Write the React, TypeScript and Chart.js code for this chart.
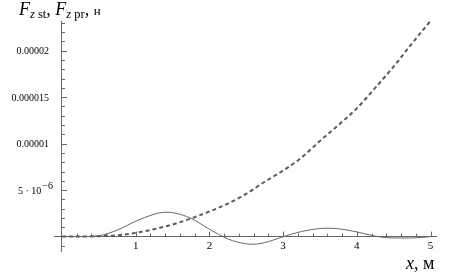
import React, { useEffect, useRef } from 'react';
import { Chart, registerables } from 'chart.js';

Chart.register(...registerables);

// Data
const SOLID_X = [0, 0.25, 0.5, 0.75, 1.0, 1.25, 1.4, 1.5, 1.75, 2.0, 2.25, 2.5, 2.6, 2.75, 3.0, 3.25, 3.5, 3.6, 3.75, 4.0, 4.25, 4.5, 4.75, 5.0];
const SOLID_Y = [0, 0, 0.1e-6, 0.7e-6, 1.65e-6, 2.4e-6, 2.62e-6, 2.58e-6, 1.97e-6, 0.8e-6, -0.25e-6, -0.78e-6, -0.82e-6, -0.65e-6, -0.02e-6, 0.55e-6, 0.87e-6, 0.9e-6, 0.85e-6, 0.5e-6, 0.05e-6, -0.15e-6, -0.15e-6, 0];

const DASHED_X = [0, 0.25, 0.5, 0.75, 1.0, 1.25, 1.5, 1.75, 2.0, 2.25, 2.5, 2.75, 3.0, 3.25, 3.5, 3.75, 4.0, 4.25, 4.5, 4.75, 5.0];
const DASHED_Y = [0, 0, 0.05e-6, 0.15e-6, 0.4e-6, 0.8e-6, 1.3e-6, 1.95e-6, 2.7e-6, 3.55e-6, 4.6e-6, 5.9e-6, 7.1e-6, 8.5e-6, 10.3e-6, 12.0e-6, 13.8e-6, 16.0e-6, 18.3e-6, 20.8e-6, 23.2e-6];

const X_TICKS = [1, 2, 3, 4, 5];
const X_TICK_LABELS = ['1', '2', '3', '4', '5'];
const Y_TICKS = [5e-6, 1e-5, 1.5e-5, 2e-5];
// [base text, superscript]
const Y_TICK_LABELS: [string, string][] = [
  ['5 \u00b7 10', '\u22126'],
  ['0.00001', ''],
  ['0.000015', ''],
  ['0.00002', ''],
];

const SERIF = '"Liberation Serif", "Times New Roman", serif';

const insideTicks = {
  id: 'insideTicks',
  beforeDatasetsDraw(chart: any) {
    const { ctx, scales } = chart;
    const xs = scales.x;
    const ys = scales.y;
    const x0 = xs.getPixelForValue(0);
    const y0 = ys.getPixelForValue(0);
    ctx.save();
    ctx.strokeStyle = '#666';
    ctx.lineWidth = 1;
    ctx.beginPath();
    for (let i = 1; i <= 25; i++) {
      const v = i * 0.2;
      const px = Math.round(xs.getPixelForValue(v)) + 0.5;
      const major = i % 5 === 0;
      ctx.moveTo(px, y0);
      ctx.lineTo(px, y0 - (major ? 5 : 3));
    }
    for (let i = -1; i <= 23; i++) {
      if (i === 0) continue;
      const v = i * 1e-6;
      const py = Math.round(ys.getPixelForValue(v)) + 0.5;
      const major = i % 5 === 0;
      ctx.moveTo(x0, py);
      ctx.lineTo(x0 + (major ? 5 : 3), py);
    }
    ctx.stroke();

    // y tick labels, right-aligned left of the axis
    ctx.fillStyle = '#000';
    ctx.textBaseline = 'middle';
    ctx.textAlign = 'right';
    const right = x0 - 13;
    Y_TICKS.forEach((v, i) => {
      const py = ys.getPixelForValue(v);
      const [base, sup] = Y_TICK_LABELS[i];
      if (sup) {
        ctx.font = `10px ${SERIF}`;
        const supW = ctx.measureText(sup).width;
        ctx.fillText(sup, right + 4, py - 4);
        ctx.font = `10px ${SERIF}`;
        ctx.fillText(base, right + 4 - supW - 1, py + 1);
      } else {
        ctx.font = `10px ${SERIF}`;
        ctx.fillText(base, right, py + 1);
      }
    });
    ctx.restore();
  },
};

export default function App() {
  const ref = useRef<HTMLCanvasElement | null>(null);

  useEffect(() => {
    if (!ref.current) return;
    const chart = new Chart(ref.current, {
      type: 'line',
      data: {
        datasets: [
          {
            data: SOLID_X.map((x, i) => ({ x, y: SOLID_Y[i] })),
            borderColor: '#666',
            borderWidth: 1,
            pointRadius: 0,
            cubicInterpolationMode: 'monotone',
            fill: false,
          },
          {
            data: DASHED_X.map((x, i) => ({ x, y: DASHED_Y[i] })),
            borderColor: '#5a5a5a',
            borderWidth: 2,
            borderDash: [4, 3],
            pointRadius: 0,
            cubicInterpolationMode: 'monotone',
            fill: false,
          },
        ],
      },
      options: {
        animation: false,
        responsive: false,
        maintainAspectRatio: false,
        events: [],
        layout: { padding: { left: 54.6, right: 14.6, top: 21, bottom: 28 } },
        plugins: { legend: { display: false }, tooltip: { enabled: false } },
        scales: {
          x: {
            type: 'linear',
            min: -0.1,
            max: 5.08,
            position: { y: 0 } as any,
            grid: { display: false, drawTicks: false },
            border: { color: '#666', width: 1 },
            afterBuildTicks: (s: any) => {
              s.ticks = X_TICKS.map((v) => ({ value: v }));
            },
            ticks: {
              callback: (_v: any, i: number) => X_TICK_LABELS[i],
              font: { family: SERIF, size: 11 },
              color: '#000',
              padding: 3,
              maxRotation: 0,
              autoSkip: false,
            },
          },
          y: {
            type: 'linear',
            min: -1.55e-6,
            max: 2.32e-5,
            position: { x: 0 } as any,
            grid: { display: false, drawTicks: false },
            border: { color: '#666', width: 1 },
            afterBuildTicks: (s: any) => {
              s.ticks = Y_TICKS.map((v) => ({ value: v }));
            },
            ticks: { display: false },
          },
        },
      } as any,
      plugins: [insideTicks],
    });
    return () => chart.destroy();
  }, []);

  return (
    <div style={{ position: 'fixed', left: 0, top: 0, width: 451, height: 279, background: '#fff' }}>
      <canvas ref={ref} width={451} height={279} style={{ position: 'absolute', left: 0, top: 0 }} />
      <div
        style={{
          position: 'absolute',
          left: 19,
          top: 0,
          fontFamily: SERIF,
          fontSize: 18,
          lineHeight: '18px',
          whiteSpace: 'nowrap',
          color: '#000',
        }}
      >
        <i>F</i>
        <span style={{ fontSize: 12.5, verticalAlign: '-3px', lineHeight: 0 }}>
          <i>z</i> st
        </span>
        , <i>F</i>
        <span style={{ fontSize: 12.5, verticalAlign: '-3px', lineHeight: 0 }}>
          <i>z</i> pr
        </span>
        , <span style={{ fontSize: 13 }}>н</span>
      </div>
      <div
        style={{
          position: 'absolute',
          left: 406,
          top: 254,
          fontFamily: SERIF,
          fontSize: 18,
          lineHeight: '18px',
          whiteSpace: 'nowrap',
          color: '#000',
        }}
      >
        <i>x</i>, м
      </div>
    </div>
  );
}
